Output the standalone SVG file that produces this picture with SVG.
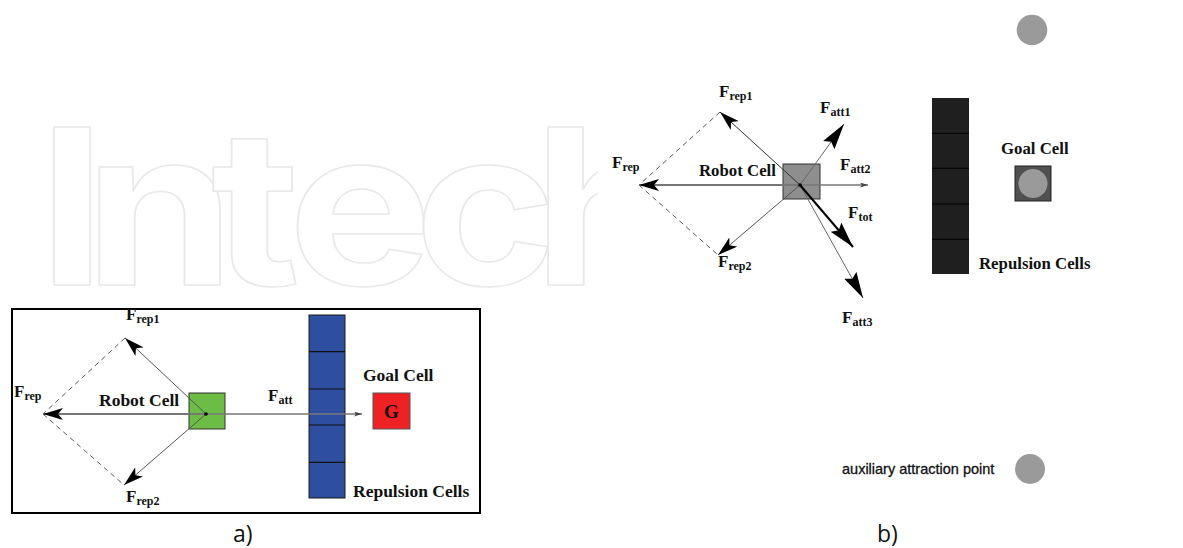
<svg xmlns="http://www.w3.org/2000/svg" width="1183" height="548" viewBox="0 0 1183 548">
<style>
.lbl{font-family:"Liberation Serif","Times New Roman",serif;font-weight:bold;fill:#111}
.F{font-size:17px}
.sub{font-size:12px}
.cap{font-family:"Liberation Serif","Times New Roman",serif;font-weight:bold;fill:#111;font-size:17.5px}
.capb{font-family:"Liberation Serif","Times New Roman",serif;font-weight:bold;fill:#111;font-size:16.8px}
.dash{stroke:#555;stroke-width:1;fill:none;stroke-dasharray:5 4}
.panel{font-family:"Open Sans","Liberation Sans",sans-serif;font-size:23px;fill:#111}
.wm{font-family:Inter,"Liberation Sans",sans-serif;font-weight:700;font-size:217px;fill:#fff;stroke:#e8e8e8;stroke-width:1.5;stroke-linejoin:round}
</style>
<defs>
<marker id="barbA" markerUnits="userSpaceOnUse" viewBox="0 0 20 12" refX="20" refY="6" markerWidth="20" markerHeight="12" orient="auto">
<path d="M20,6 L0,0 L5,6 L0,12 Z" fill="#000"/>
</marker>
<marker id="barbB" markerUnits="userSpaceOnUse" viewBox="0 0 26 15" refX="26" refY="7.5" markerWidth="26" markerHeight="15" orient="auto">
<path d="M26,7.5 L0,0.5 L4,7.5 L0,14.5 Z" fill="#000"/>
</marker>
<marker id="small" markerUnits="userSpaceOnUse" viewBox="0 0 8 5" refX="8" refY="2.5" markerWidth="8" markerHeight="5" orient="auto">
<path d="M8,2.5 L0,0 L2,2.5 L0,5 Z" fill="#444"/>
</marker>
<clipPath id="wmclip"><rect x="0" y="0" width="598" height="300"/></clipPath>
</defs>
<rect width="1183" height="548" fill="#fff"/>

<!-- watermark -->
<g id="watermark" clip-path="url(#wmclip)">
<text class="wm" transform="translate(0,285) scale(1.12,1)" x="33.9 75 188.4 257.1 369.6 475.9" y="0">Intech</text>
</g>

<!-- ===== Panel a ===== -->
<g id="frameA"><rect x="12" y="309" width="468" height="204" fill="none" stroke="#000" stroke-width="2"/></g>

<g id="robotA"><rect x="189" y="393" width="36" height="36" fill="#6cbd45" stroke="#333" stroke-width="1"/></g>

<g id="repulsionA">
<rect x="309" y="315" width="36" height="183" fill="#2e4f9f" stroke="#1a1a1a" stroke-width="1"/>
<g stroke="#111" stroke-width="1.2">
<line x1="309" y1="351.7" x2="345" y2="351.7"/>
<line x1="309" y1="389" x2="345" y2="389"/>
<line x1="309" y1="425" x2="345" y2="425"/>
<line x1="309" y1="462.3" x2="345" y2="462.3"/>
</g>
</g>

<g id="goalA">
<rect x="373" y="393" width="37" height="36" fill="#ee2124" stroke="#555" stroke-width="1"/>
<text x="391.5" y="418" text-anchor="middle" font-family="'Liberation Serif',serif" font-weight="bold" font-size="19" fill="#111">G</text>
</g>

<g id="connectorsA">
<line x1="125" y1="338" x2="43" y2="414" class="dash"/>
<line x1="43" y1="414" x2="124" y2="485" class="dash"/>
<line x1="206" y1="414" x2="43" y2="414" stroke="#777" stroke-width="2" marker-end="url(#barbA)"/>
<line x1="206" y1="414" x2="362" y2="414" stroke="#777" stroke-width="1.6" marker-end="url(#small)"/>
<line x1="206" y1="414" x2="125" y2="338" stroke="#555" stroke-width="1" marker-end="url(#barbA)"/>
<line x1="206" y1="414" x2="124" y2="485" stroke="#555" stroke-width="1" marker-end="url(#barbA)"/>
<circle cx="206" cy="414" r="1.8" fill="#000"/>
</g>

<g id="labelsA">
<text class="lbl" x="126" y="320"><tspan class="F">F</tspan><tspan class="sub" dy="3">rep1</tspan></text>
<text class="lbl" x="14" y="397"><tspan class="F">F</tspan><tspan class="sub" dy="3">rep</tspan></text>
<text class="lbl" x="126" y="502"><tspan class="F">F</tspan><tspan class="sub" dy="3">rep2</tspan></text>
<text class="lbl" x="268" y="401"><tspan class="F">F</tspan><tspan class="sub" dy="3">att</tspan></text>
<text class="cap" x="99" y="406">Robot Cell</text>
<text class="cap" x="363" y="381">Goal Cell</text>
<text class="cap" x="353" y="497">Repulsion Cells</text>
</g>
<text class="panel" x="233" y="542">a)</text>

<!-- ===== Panel b ===== -->
<g id="robotB"><rect x="783" y="164" width="37" height="35" fill="#8e8e8e" stroke="#333" stroke-width="1"/></g>

<g id="repulsionB">
<rect x="932" y="98" width="37" height="176" fill="#1f1f1f"/>
<g stroke="#000" stroke-width="1">
<line x1="932" y1="133.3" x2="969" y2="133.3"/>
<line x1="932" y1="168.3" x2="969" y2="168.3"/>
<line x1="932" y1="204" x2="969" y2="204"/>
<line x1="932" y1="239.3" x2="969" y2="239.3"/>
</g>
</g>

<g id="goalB">
<rect x="1015" y="166" width="36" height="35" fill="#505050" stroke="#222" stroke-width="1"/>
<circle cx="1033" cy="183.5" r="14.5" fill="#9a9a9a"/>
</g>

<g id="auxTop"><circle cx="1032" cy="30" r="15.3" fill="#9a9a9a"/></g>
<g id="auxBottom"><circle cx="1030" cy="469" r="15" fill="#9a9a9a"/></g>

<g id="connectorsB">
<line x1="720" y1="112" x2="639" y2="185" class="dash"/>
<line x1="639" y1="185" x2="718" y2="255" class="dash"/>
<line x1="800" y1="185" x2="639" y2="185" stroke="#777" stroke-width="2" marker-end="url(#barbA)"/>
<line x1="800" y1="185" x2="868" y2="185" stroke="#777" stroke-width="1.4" marker-end="url(#small)"/>
<line x1="800" y1="185" x2="720" y2="112" stroke="#333" stroke-width="1" marker-end="url(#barbA)"/>
<line x1="800" y1="185" x2="718" y2="255" stroke="#555" stroke-width="1" marker-end="url(#barbA)"/>
<line x1="800" y1="185" x2="844" y2="124" stroke="#666" stroke-width="1" marker-end="url(#barbB)"/>
<line x1="800" y1="185" x2="863" y2="298" stroke="#666" stroke-width="1" marker-end="url(#barbB)"/>
<line x1="800" y1="185" x2="853" y2="247" stroke="#000" stroke-width="2" marker-end="url(#barbB)"/>
<circle cx="800" cy="185" r="1.8" fill="#000"/>
</g>

<g id="labelsB">
<text class="lbl" x="719" y="97"><tspan class="F">F</tspan><tspan class="sub" dy="3">rep1</tspan></text>
<text class="lbl" x="820" y="113"><tspan class="F">F</tspan><tspan class="sub" dy="3">att1</tspan></text>
<text class="lbl" x="612" y="168"><tspan class="F">F</tspan><tspan class="sub" dy="3">rep</tspan></text>
<text class="lbl" x="840" y="170"><tspan class="F">F</tspan><tspan class="sub" dy="3">att2</tspan></text>
<text class="lbl" x="848" y="218"><tspan class="F">F</tspan><tspan class="sub" dy="3">tot</tspan></text>
<text class="lbl" x="718" y="267"><tspan class="F">F</tspan><tspan class="sub" dy="3">rep2</tspan></text>
<text class="lbl" x="842" y="323"><tspan class="F">F</tspan><tspan class="sub" dy="3">att3</tspan></text>
<text class="capb" x="699" y="176">Robot Cell</text>
<text class="capb" x="1001" y="154">Goal Cell</text>
<text class="capb" x="979" y="269">Repulsion Cells</text>
<text x="842" y="474" font-family="'Liberation Sans',Arial,sans-serif" font-size="14.5" fill="#111" stroke="#111" stroke-width="0.3">auxiliary attraction point</text>
</g>
<text class="panel" x="877" y="542">b)</text>
</svg>
